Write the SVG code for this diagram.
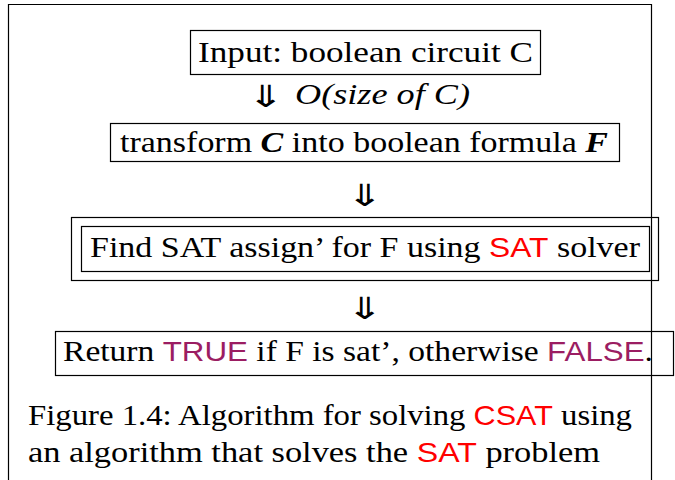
<svg xmlns="http://www.w3.org/2000/svg" width="675" height="480" viewBox="0 0 675 480">
<style>
.box{fill:none;stroke:#000;stroke-width:1.2}
.t{font-family:'Liberation Serif','DejaVu Serif',serif;font-size:30px;fill:#000}
.bi{font-weight:bold;font-style:italic}
.it{font-style:italic}
.sans{font-family:'Liberation Sans','DejaVu Sans',sans-serif;font-size:28px}
.red{fill:#ff0000}
.pur{fill:#9b1d62}
.arr{font-family:'DejaVu Sans',sans-serif;font-size:34px;fill:#000}
</style>
<rect width="675" height="480" fill="#fff"/>
<g id="frame"><path d="M8.5 480V4.5H651.5V480" fill="none" stroke="#000" stroke-width="1.2"/></g>
<g id="node-input">
<rect class="box" x="190.5" y="30.5" width="350" height="44"/>
<text class="t" x="198" y="62" textLength="335" lengthAdjust="spacingAndGlyphs">Input: boolean circuit C</text>
</g>
<g id="node-transform">
<rect class="box" x="110.5" y="123.5" width="509" height="38"/>
<text class="t" x="120" y="152" textLength="488" lengthAdjust="spacingAndGlyphs">transform <tspan class="bi">C</tspan> into boolean formula <tspan class="bi">F</tspan></text>
</g>
<g id="node-find">
<rect class="box" x="71.5" y="217.5" width="587" height="63"/>
<rect class="box" x="81.5" y="226.5" width="568" height="45"/>
<text class="t" x="90" y="257" textLength="550" lengthAdjust="spacingAndGlyphs">Find SAT assign’ for F using <tspan class="sans red">SAT</tspan> solver</text>
</g>
<g id="node-return">
<rect class="box" x="55.5" y="331.5" width="618" height="44"/>
<text class="t" x="63" y="361" textLength="590" lengthAdjust="spacingAndGlyphs">Return <tspan class="sans pur">TRUE</tspan> if F is sat’, otherwise <tspan class="sans pur">FALSE</tspan>.</text>
</g>
<g id="connectors">
<text class="arr" transform="translate(266,107) scale(1.3,0.9)" text-anchor="middle">⇓</text>
<text class="t it" x="295" y="104" textLength="175" lengthAdjust="spacingAndGlyphs">O(size of C)</text>
<text class="arr" transform="translate(365,206) scale(1.3,0.9)" text-anchor="middle">⇓</text>
<text class="arr" transform="translate(365,319) scale(1.3,0.9)" text-anchor="middle">⇓</text>
</g>
<g id="caption">
<text class="t" x="28" y="425" textLength="604" lengthAdjust="spacingAndGlyphs">Figure 1.4: Algorithm for solving <tspan class="sans red">CSAT</tspan> using</text>
<text class="t" x="28" y="462" textLength="572" lengthAdjust="spacingAndGlyphs">an algorithm that solves the <tspan class="sans red">SAT</tspan> problem</text>
</g>
</svg>
